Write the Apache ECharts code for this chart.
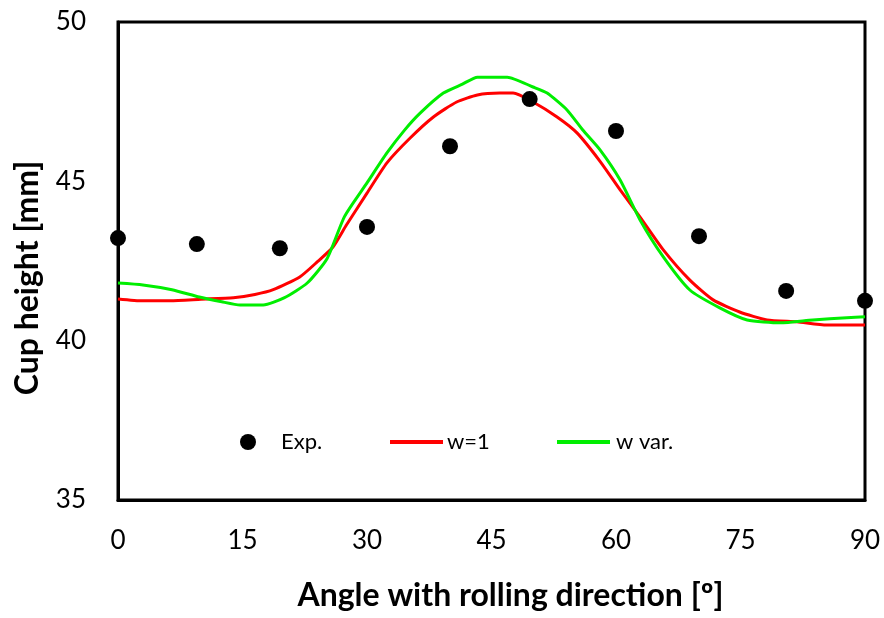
<!DOCTYPE html>
<html><head><meta charset="utf-8">
<script src="https://cdn.jsdelivr.net/npm/echarts@6/dist/echarts.min.js"></script>
<style>html,body{margin:0;padding:0;background:#fff}#c{width:884px;height:618px}</style>
</head><body><div id="c"></div>
<script>
const expAngles = [0, 9.5, 19.5, 30, 40, 49.6, 60, 70, 80.5, 90];
const expHeights = [43.22, 43.03, 42.9, 43.57, 46.1, 47.58, 46.58, 43.28, 41.56, 41.25];

const w1Angles = [0, 3, 6.3, 10, 13.9, 16.5, 18.7, 21.9, 24.0, 25.9, 27.5, 30.0, 32.4, 35.2, 38.0, 40.8, 43.3, 46.0, 47.6, 50.0, 52.9, 55.3, 58.1, 60.5, 62.9, 65.7, 68.9, 71.7, 74.9, 78.2, 81.8, 85.4, 90];
const w1Heights = [41.31, 41.25, 41.25, 41.3, 41.35, 41.45, 41.6, 42.0, 42.47, 42.94, 43.62, 44.63, 45.58, 46.36, 47.02, 47.49, 47.71, 47.77, 47.77, 47.49, 47.02, 46.52, 45.62, 44.73, 43.88, 42.85, 41.9, 41.28, 40.9, 40.65, 40.59, 40.49, 40.49];

const wvAngles = [0, 3.0, 6.5, 9.8, 12.5, 14.7, 17.5, 20.0, 22.8, 25.2, 27.3, 30.0, 32.4, 34.5, 36.4, 39.2, 41.5, 43.3, 46.9, 50.0, 51.7, 54.1, 56.0, 58.1, 60.5, 62.9, 65.7, 68.9, 72.5, 75.8, 79.8, 83.7, 87.8, 90];
const wvHeights = [41.81, 41.75, 41.6, 41.37, 41.22, 41.12, 41.12, 41.34, 41.81, 42.58, 43.9, 44.95, 45.89, 46.6, 47.14, 47.77, 48.05, 48.27, 48.27, 47.96, 47.77, 47.24, 46.61, 45.98, 45.04, 43.79, 42.63, 41.59, 41.03, 40.65, 40.56, 40.65, 40.72, 40.75];

const xTicks = [0, 15, 30, 45, 60, 75, 90];
const yTicks = [35, 40, 45, 50];

const zip = (a, b) => a.map((v, i) => [v, b[i]]);
const FONT = 'Lato, "Liberation Sans", sans-serif';

const chart = echarts.init(document.getElementById('c'), null, {renderer: 'canvas'});
chart.setOption({
  animation: false,
  backgroundColor: '#fff',
  grid: {left: 118, right: 19, top: 22, bottom: 118, show: true, borderColor: '#000', borderWidth: 3,
         containLabel: false, outerBoundsMode: 'none'},
  xAxis: {
    type: 'value', min: xTicks[0], max: xTicks[xTicks.length - 1], interval: 15,
    name: 'Angle with rolling direction [º]', nameLocation: 'middle', nameGap: 80,
    nameTextStyle: {fontFamily: FONT, fontSize: 32, fontWeight: 'bold', color: '#000', padding: [0, 0, 0, 38]},
    axisLine: {show: true, lineStyle: {color: '#000', width: 3}},
    axisTick: {show: false},
    splitLine: {show: false},
    axisLabel: {fontFamily: FONT, fontSize: 26, color: '#000', margin: 28}
  },
  yAxis: {
    type: 'value', min: yTicks[0], max: yTicks[yTicks.length - 1], interval: 5,
    name: 'Cup height [mm]', nameLocation: 'middle', nameGap: 74,
    nameTextStyle: {fontFamily: FONT, fontSize: 32, fontWeight: 'bold', color: '#000', padding: [0, 34, 0, 0]},
    axisLine: {show: true, lineStyle: {color: '#000', width: 3}},
    axisTick: {show: false},
    splitLine: {show: false},
    axisLabel: {fontFamily: FONT, fontSize: 26, color: '#000', margin: 32}
  },
  legend: [
    {data: [{name: 'Exp.', icon: 'circle'}], left: 235, top: 426, itemWidth: 16, itemHeight: 16, itemGap: 0,
     textStyle: {fontFamily: FONT, fontSize: 22, color: '#000', padding: [0, 0, 0, 20]}},
    {data: [{name: 'w=1', icon: 'rect'}], left: 385, top: 426, itemWidth: 53, itemHeight: 4, itemGap: 0,
     textStyle: {fontFamily: FONT, fontSize: 22, color: '#000', padding: [0, 0, 0, -1]}},
    {data: [{name: 'w var.', icon: 'rect'}], left: 552, top: 426, itemWidth: 53, itemHeight: 4, itemGap: 0,
     textStyle: {fontFamily: FONT, fontSize: 22, color: '#000', padding: [0, 0, 0, 1]}}
  ],
  series: [
    {name: 'Exp.', type: 'scatter', data: zip(expAngles, expHeights), symbol: 'circle', symbolSize: 16,
     itemStyle: {color: '#000', opacity: 1}, z: 5},
    {name: 'w=1', type: 'line', data: zip(w1Angles, w1Heights), symbol: 'none', smooth: 0.2,
     lineStyle: {color: '#ff0000', width: 3}, itemStyle: {color: '#ff0000'}, z: 3},
    {name: 'w var.', type: 'line', data: zip(wvAngles, wvHeights), symbol: 'none', smooth: 0.2,
     lineStyle: {color: '#00ee00', width: 3}, itemStyle: {color: '#00ee00'}, z: 4}
  ]
});
</script></body></html>
